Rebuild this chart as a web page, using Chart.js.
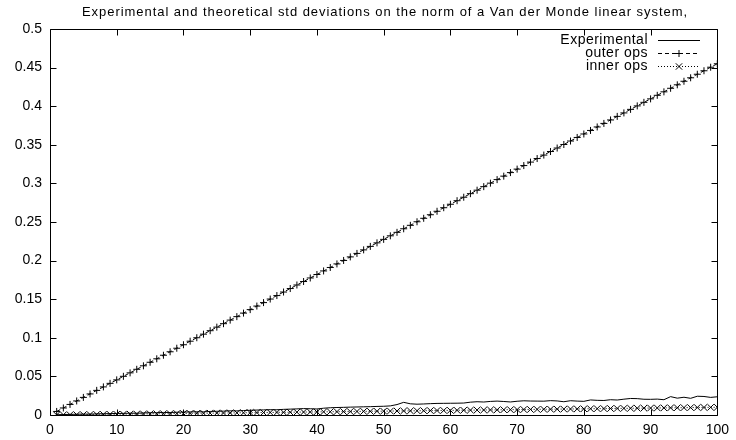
<!DOCTYPE html>
<html>
<head>
<meta charset="UTF-8">
<title>Van der Monde std deviations</title>
<script src="https://cdn.jsdelivr.net/npm/chart.js"></script>
<style>
  html, body { margin: 0; padding: 0; background: #fff; }
  canvas { display: block; }
</style>
</head>
<body>
<canvas id="chart" width="736" height="440"></canvas>
<script>
// x positions (system size), 1..100
const ns = Array.from({ length: 100 }, (_, i) => i + 1);

const experimental = [
  0.0003, 0.0006, 0.0008, 0.0010, 0.0012, 0.0011, 0.0015, 0.0016, 0.0018, 0.0020,
  0.0021, 0.0024, 0.0023, 0.0027, 0.0029, 0.0030, 0.0033, 0.0032, 0.0036, 0.0038,
  0.0040, 0.0042, 0.0041, 0.0046, 0.0048, 0.0050, 0.0054, 0.0053, 0.0058, 0.0061,
  0.0064, 0.0066, 0.0069, 0.0068, 0.0073, 0.0076, 0.0079, 0.0083, 0.0081, 0.0078,
  0.0088, 0.0094, 0.0097, 0.0099, 0.0102, 0.0104, 0.0106, 0.0108, 0.0111, 0.0113,
  0.0118, 0.0135, 0.0164, 0.0145, 0.0140, 0.0143, 0.0147, 0.0150, 0.0151, 0.0152,
  0.0153, 0.0155, 0.0166, 0.0172, 0.0168, 0.0176, 0.0180, 0.0175, 0.0169, 0.0178,
  0.0184, 0.0181, 0.0180, 0.0179, 0.0186, 0.0182, 0.0172, 0.0185, 0.0180, 0.0177,
  0.0195, 0.0190, 0.0188, 0.0198, 0.0194, 0.0205, 0.0214, 0.0212, 0.0204, 0.0203,
  0.0206, 0.0198, 0.0238, 0.0218, 0.0230, 0.0216, 0.0243, 0.0240, 0.0228, 0.0236
];

const outerOps = [
  0.0046, 0.0091, 0.0137, 0.0182, 0.0228, 0.0273, 0.0319, 0.0364, 0.0410, 0.0455,
  0.0501, 0.0546, 0.0592, 0.0637, 0.0683, 0.0728, 0.0774, 0.0819, 0.0865, 0.0910,
  0.0956, 0.1001, 0.1047, 0.1092, 0.1138, 0.1183, 0.1229, 0.1274, 0.1320, 0.1365,
  0.1411, 0.1456, 0.1502, 0.1547, 0.1593, 0.1638, 0.1684, 0.1729, 0.1775, 0.1820,
  0.1866, 0.1911, 0.1957, 0.2002, 0.2048, 0.2093, 0.2139, 0.2184, 0.2230, 0.2275,
  0.2321, 0.2366, 0.2412, 0.2457, 0.2503, 0.2548, 0.2594, 0.2639, 0.2685, 0.2730,
  0.2776, 0.2821, 0.2867, 0.2912, 0.2958, 0.3003, 0.3049, 0.3094, 0.3140, 0.3185,
  0.3231, 0.3276, 0.3322, 0.3367, 0.3413, 0.3458, 0.3504, 0.3549, 0.3595, 0.3640,
  0.3686, 0.3731, 0.3777, 0.3822, 0.3868, 0.3913, 0.3959, 0.4004, 0.4050, 0.4095,
  0.4141, 0.4186, 0.4232, 0.4277, 0.4323, 0.4368, 0.4414, 0.4459, 0.4505, 0.4550
];

const innerOps = [
  0.0001, 0.0002, 0.0003, 0.0004, 0.0005, 0.0006, 0.0007, 0.0008, 0.0009, 0.0010,
  0.0011, 0.0012, 0.0013, 0.0014, 0.0015, 0.0016, 0.0017, 0.0018, 0.0019, 0.0020,
  0.0021, 0.0022, 0.0023, 0.0024, 0.0025, 0.0026, 0.0027, 0.0028, 0.0029, 0.0030,
  0.0031, 0.0032, 0.0033, 0.0034, 0.0035, 0.0036, 0.0037, 0.0038, 0.0039, 0.0040,
  0.0041, 0.0042, 0.0043, 0.0044, 0.0045, 0.0046, 0.0047, 0.0048, 0.0049, 0.0050,
  0.0051, 0.0052, 0.0053, 0.0054, 0.0055, 0.0056, 0.0057, 0.0058, 0.0059, 0.0060,
  0.0061, 0.0062, 0.0063, 0.0064, 0.0065, 0.0066, 0.0067, 0.0068, 0.0069, 0.0070,
  0.0071, 0.0072, 0.0073, 0.0074, 0.0075, 0.0076, 0.0077, 0.0078, 0.0079, 0.0080,
  0.0081, 0.0082, 0.0083, 0.0084, 0.0085, 0.0086, 0.0087, 0.0088, 0.0089, 0.0090,
  0.0091, 0.0092, 0.0093, 0.0094, 0.0095, 0.0096, 0.0097, 0.0098, 0.0099, 0.0100
];

const xTickLabels = ['0', '10', '20', '30', '40', '50', '60', '70', '80', '90', '100'];
const yTickLabels = ['0', '0.05', '0.1', '0.15', '0.2', '0.25', '0.3', '0.35', '0.4', '0.45', '0.5'];

const title = 'Experimental and theoretical std deviations on the norm of a Van der Monde linear system,';
const FONT = '"Liberation Sans", Arial, Helvetica, sans-serif';

function pts(ys) {
  return ns.map((n, i) => ({ x: n, y: ys[i] }));
}

// draw text stretched to a given width (gnuplot's font runs wider)
function wideText(ctx, text, x, y, width) {
  ctx.letterSpacing = '0px';
  const w = ctx.measureText(text).width;
  ctx.letterSpacing = Math.max(0, (width - w) / text.length).toFixed(2) + 'px';
  ctx.fillText(text, x, y);
  ctx.letterSpacing = '0px';
}

// white page, title
const pagePlugin = {
  id: 'page',
  beforeDraw(chart) {
    const ctx = chart.ctx;
    ctx.save();
    ctx.fillStyle = '#fff';
    ctx.fillRect(0, 0, chart.width, chart.height);
    ctx.fillStyle = '#000';
    ctx.font = '13px ' + FONT;
    ctx.textAlign = 'left';
    ctx.textBaseline = 'middle';
    wideText(ctx, title, 82, 12, 606);
    ctx.restore();
  }
};

// gnuplot style border with inward ticks on all four sides
const framePlugin = {
  id: 'frame',
  afterDraw(chart) {
    const { ctx, chartArea: a, scales } = chart;
    const L = Math.round(a.left) + 0.5, R = Math.round(a.right) + 0.5;
    const T = Math.round(a.top) + 0.5, B = Math.round(a.bottom) + 0.5;
    const len = 6;
    ctx.save();
    ctx.strokeStyle = '#000';
    ctx.lineWidth = 1;
    ctx.beginPath();
    ctx.rect(L, T, R - L, B - T);
    scales.x.ticks.forEach(t => {
      const px = Math.round(scales.x.getPixelForValue(t.value)) + 0.5;
      ctx.moveTo(px, B); ctx.lineTo(px, B - len);
      ctx.moveTo(px, T); ctx.lineTo(px, T + len);
    });
    scales.y.ticks.forEach(t => {
      const py = Math.round(scales.y.getPixelForValue(t.value)) + 0.5;
      ctx.moveTo(L, py); ctx.lineTo(L + len, py);
      ctx.moveTo(R, py); ctx.lineTo(R - len, py);
    });
    ctx.stroke();
    ctx.restore();
  }
};

// key in the top right corner: right-aligned text, sample to the right
const keyPlugin = {
  id: 'key',
  afterDatasetsDraw(chart) {
    const ctx = chart.ctx;
    ctx.save();
    ctx.font = '14px ' + FONT;
    ctx.textAlign = 'right';
    ctx.textBaseline = 'middle';
    ctx.letterSpacing = '0.5px';
    chart.data.datasets.forEach((ds, i) => {
      const y = 40 + i * 13;
      ctx.fillStyle = '#000';
      ctx.fillText(ds.label, 648, y);
      ctx.strokeStyle = '#000';
      ctx.lineWidth = 1;
      ctx.setLineDash(ds.borderDash || []);
      ctx.beginPath();
      ctx.moveTo(658, y + 0.5);
      ctx.lineTo(700, y + 0.5);
      ctx.stroke();
      ctx.setLineDash([]);
      if (ds.pointRadius > 0) {
        Chart.helpers.drawPoint(ctx, {
          pointStyle: ds.pointStyle, radius: ds.pointRadius, borderWidth: 1, rotation: 0
        }, 679, y + 0.5);
      }
    });
    ctx.restore();
  }
};

new Chart(document.getElementById('chart'), {
  type: 'line',
  data: {
    datasets: [
      {
        label: 'Experimental',
        data: pts(experimental),
        borderColor: '#000',
        borderWidth: 1,
        pointRadius: 0,
        tension: 0
      },
      {
        label: 'outer ops',
        data: pts(outerOps),
        borderColor: '#000',
        borderWidth: 1,
        borderDash: [4, 3],
        pointStyle: 'cross',
        pointRadius: 3.5,
        pointBorderColor: '#000',
        pointBorderWidth: 1,
        tension: 0
      },
      {
        label: 'inner ops',
        data: pts(innerOps),
        borderColor: '#000',
        borderWidth: 1,
        borderDash: [1, 2],
        pointStyle: 'crossRot',
        pointRadius: 4.5,
        pointBorderColor: '#000',
        pointBorderWidth: 1,
        tension: 0
      }
    ]
  },
  options: {
    responsive: false,
    animation: false,
    devicePixelRatio: 1,
    layout: { padding: { top: 29, right: 17, left: 0, bottom: 0 } },
    plugins: {
      legend: { display: false },
      tooltip: { enabled: false }
    },
    scales: {
      x: {
        type: 'linear',
        min: 0,
        max: 100,
        afterFit(scale) { scale.height = 25; },
        afterBuildTicks(scale) {
          scale.ticks = xTickLabels.map(s => ({ value: Number(s) }));
        },
        grid: { display: false, drawTicks: false },
        border: { display: false },
        ticks: {
          padding: 7,
          color: '#000',
          font: { family: FONT, size: 14 },
          maxRotation: 0,
          callback: (v, i) => xTickLabels[i]
        }
      },
      y: {
        min: 0,
        max: 0.5,
        afterFit(scale) { scale.width = 50; },
        afterBuildTicks(scale) {
          scale.ticks = yTickLabels.map(s => ({ value: Number(s) }));
        },
        grid: { display: false, drawTicks: false },
        border: { display: false },
        ticks: {
          padding: 8,
          color: '#000',
          font: { family: FONT, size: 14 },
          callback: (v, i) => yTickLabels[i]
        }
      }
    }
  },
  plugins: [pagePlugin, framePlugin, keyPlugin]
});
</script>
</body>
</html>
